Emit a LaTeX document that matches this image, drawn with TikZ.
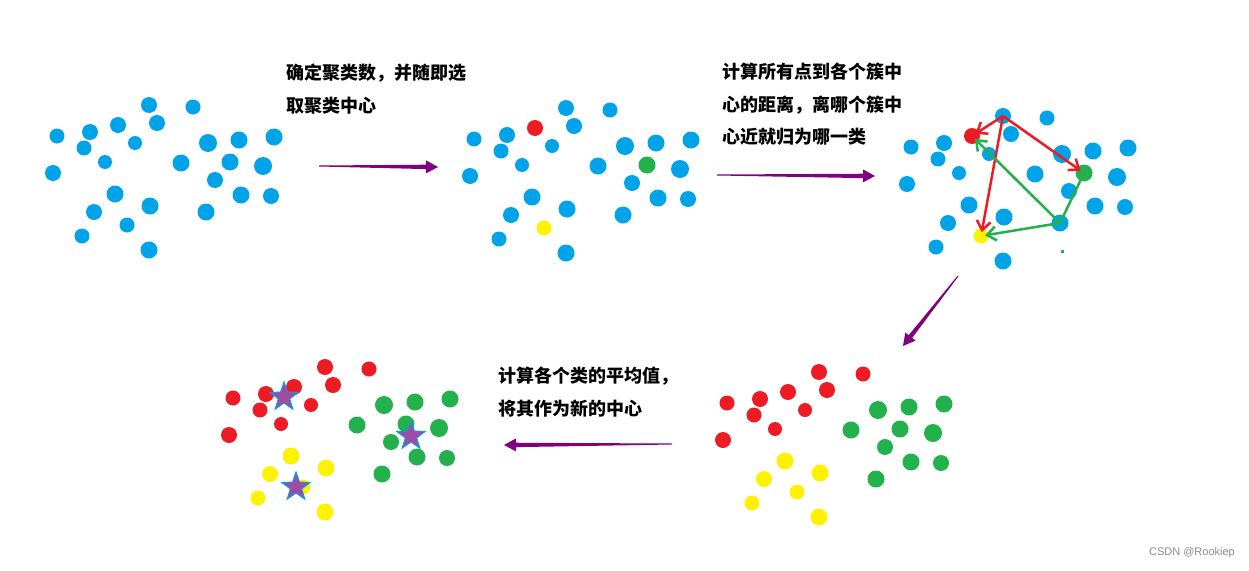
\documentclass[tikz,border=0pt]{standalone}
\usepackage{fontspec}
\usetikzlibrary{calc,arrows.meta,shapes.geometric}
\newfontfamily\cjk{Noto Sans CJK SC}
\newfontfamily\wmfont{Liberation Sans}

\definecolor{kblue}{RGB}{0,162,232}
\definecolor{kred}{RGB}{237,28,36}
\definecolor{kgreen}{RGB}{34,177,76}
\definecolor{kyellow}{RGB}{255,242,0}
\definecolor{kpurple}{RGB}{128,0,128}
\definecolor{kstar}{RGB}{163,73,164}

% x/y/radius/group colour/seed colour
\def\kpoints{149/105/8/kred/kblue, 193/107/7.5/kred/kblue, 157/123/8/kred/kblue,
  118/125/8/kred/kred, 90/132/8/kred/kblue, 57/136/7.5/kred/kblue,
  84/148/7.5/kred/kblue, 135/143/7/kred/kblue, 105/162/7/kred/kblue,
  53/173/8/kred/kblue, 208/143/9/kgreen/kblue, 239/140/8.5/kgreen/kblue,
  274/137/8.5/kgreen/kblue, 181/163/8.5/kgreen/kblue, 230/162/8.5/kgreen/kgreen,
  263/166/9/kgreen/kblue, 215/180/8/kgreen/kblue, 115/194/8.5/kyellow/kblue,
  150/206/8.5/kyellow/kblue, 94/212/8/kyellow/kblue, 241/195/8.5/kgreen/kblue,
  271/196/8/kgreen/kblue, 206/212/8.5/kgreen/kblue, 127/225/7.5/kyellow/kyellow,
  82/236/7.5/kyellow/kblue, 149/250/8.5/kyellow/kblue}

\newcommand{\cluster}[3]{%
  \begin{scope}[shift={#2}]
    \foreach \x/\y/\r/\g/\s [count=\i] in \kpoints
      \node[dot, minimum size=2*\r pt, fill=#3] (#1-\i) at (\x,\y) {};
  \end{scope}}

\newcommand{\flow}[2]{%
  \path ($(#2)!12pt!(#1)$) coordinate (hb);
  \fill[kpurple] ($(#1)!0.5pt!90:(#2)$) -- ($(hb)!2.2pt!90:(#2)$)
    -- ($(hb)!6.5pt!90:(#2)$) -- (#2) -- ($(hb)!6.5pt!-90:(#2)$)
    -- ($(hb)!2.2pt!-90:(#2)$) -- ($(#1)!0.5pt!-90:(#2)$) -- cycle;}

\begin{document}
\begin{tikzpicture}[x=1pt, y=-1pt,
  dot/.style={circle, inner sep=0pt, draw=none},
  note/.style={anchor=north west, inner sep=0pt, align=left,
    font=\cjk\bfseries\fontsize{18}{32.5}\selectfont},
  starmark/.style={star, star points=5, star point ratio=2.5, minimum size=30pt,
    inner sep=0pt, fill=kstar, draw=kblue, line width=1pt},
  pull/.style={line width=2.5pt, -{Straight Barb[length=9pt,width=14pt]}, shorten >=4pt}]
  \useasboundingbox (0,0) rectangle (1249,570);

  \cluster{c1}{(0,0)}{kblue}
  \cluster{c2}{(417,3)}{\s}
  \cluster{c3}{(854,11)}{\s}
  \cluster{c4}{(670,267)}{\g}
  \cluster{c5}{(176,262)}{\g}

  \node[starmark] (s1) at (284,397) {};
  \node[starmark] (s2) at (411,436) {};
  \node[starmark] (s3) at (296,487) {};

  \draw[pull, kred] (c3-1.center) -- (c3-4.center);
  \draw[pull, kred] (c3-1.center) -- (c3-15.center);
  \draw[pull, kred] (c3-1.center) -- (c3-24.center);
  \draw[pull, kgreen] (c3-23.center) -- (c3-4.center);
  \draw[pull, kgreen] (c3-23.center) -- (c3-24.center);
  \draw[kgreen, line width=2.5pt, shorten >=5pt] (c3-23.center) -- (c3-15.center);
  \fill[kgreen] (1061,250) rectangle (1064,253);

  \node[note] (t1) at (286,64) {确定聚类数，并随即选\\取聚类中心};
  \node[note] (t2) at (722,63) {计算所有点到各个簇中\\心的距离，离哪个簇中\\心近就归为哪一类};
  \node[note] (t3) at (498,367) {计算各个类的平均值，\\将其作为新的中心};

  \coordinate (f1a) at (319,166);
  \coordinate (f1b) at (438,167);
  \coordinate (f2a) at (717,175);
  \coordinate (f2b) at (875,176);
  \coordinate (f3a) at (958,276);
  \coordinate (f3b) at (903,346);
  \coordinate (f4a) at (672,444);
  \coordinate (f4b) at (504,445);
  \flow{f1a}{f1b}
  \flow{f2a}{f2b}
  \flow{f3a}{f3b}
  \flow{f4a}{f4b}

  \node[anchor=east, inner sep=0pt, text=black!45, font=\wmfont\fontsize{11}{13}\selectfont] (wm) at (1235,553) {CSDN @Rookiep};
\end{tikzpicture}
\end{document}
